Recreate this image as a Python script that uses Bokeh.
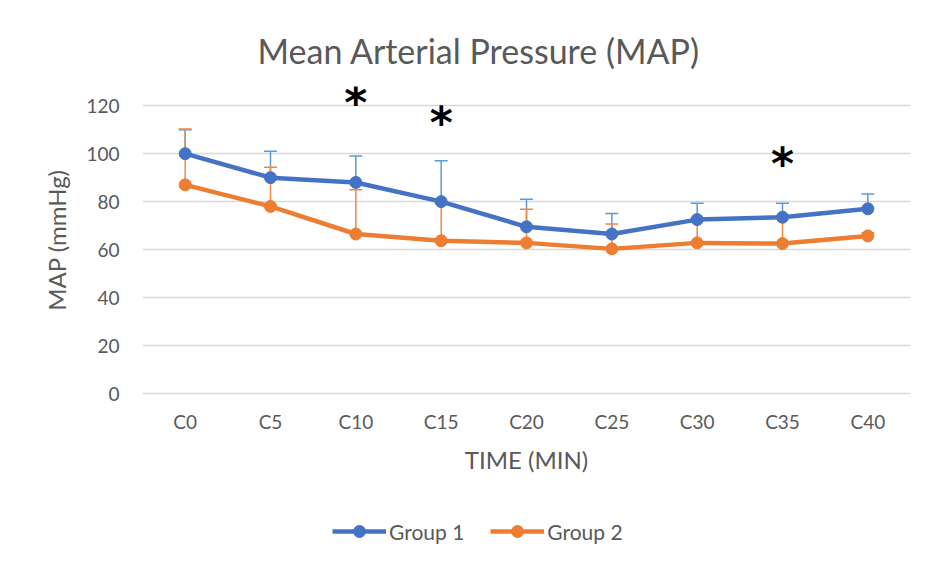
from bokeh.plotting import figure
from bokeh.layouts import column
from bokeh.models import ColumnDataSource, Whisker, TeeHead, Legend, LegendItem, FixedTicker
from bokeh.core.properties import value
from bokeh.embed import file_html
from bokeh.resources import INLINE

categories = ["C0", "C5", "C10", "C15", "C20", "C25", "C30", "C35", "C40"]
group1 = [100, 90, 88, 80, 69.5, 66.5, 72.5, 73.5, 77]
group2 = [87, 78, 66.5, 63.7, 62.8, 60.3, 62.8, 62.5, 65.7]
group1_upper = [110, 101, 99, 97, 81, 75, 79.3, 79.3, 83.2]
group2_upper = [110.3, 94.3, 85, 80, 76.8, 70.7, 72, 73, 67]
star_cats = ["C10", "C15", "C35"]
star_y = [121.3, 113, 95.8]
y_ticks = [0, 20, 40, 60, 80, 100, 120]

FONT = "Lato"
GRAY = "#595959"
BLUE = "#4472C4"
ORANGE = "#ED7D31"

p = figure(width=933, height=500, x_range=categories, y_range=(0, 128),
           output_backend="svg", toolbar_location=None,
           min_border_left=142, min_border_right=23, min_border_top=86, min_border_bottom=107)

p.title.text = "Mean Arterial Pressure (MAP)"
p.title.align = "left"
p.title.offset = 115
p.title.text_font = FONT
p.title.text_font_size = "34px"
p.title.text_font_style = "normal"
p.title.text_color = GRAY
p.title.standoff = 31

p.outline_line_color = None
p.xgrid.grid_line_color = None
p.ygrid.grid_line_color = "#D9D9D9"
p.ygrid.grid_line_width = 1.5
p.yaxis.ticker = FixedTicker(ticks=y_ticks)
p.yaxis.axis_line_color = None
p.yaxis.major_tick_line_color = None
p.yaxis.major_tick_out = 0
p.yaxis.minor_tick_line_color = None
p.yaxis.minor_tick_out = 0
p.yaxis.major_label_standoff = 23
p.yaxis.axis_label = "MAP (mmHg)"
p.yaxis.axis_label_standoff = 12
p.xaxis.axis_line_color = "#D9D9D9"
p.xaxis.axis_line_width = 1.5
p.xaxis.major_tick_line_color = None
p.xaxis.major_tick_out = 0
p.xaxis.major_label_standoff = 16
p.xaxis.axis_label = "TIME (MIN)"
p.xaxis.axis_label_standoff = 9
for ax in (p.xaxis, p.yaxis):
    ax.major_label_text_font = FONT
    ax.major_label_text_font_size = "19px"
    ax.major_label_text_color = GRAY
    ax.axis_label_text_font = FONT
    ax.axis_label_text_font_size = "24px"
    ax.axis_label_text_font_style = "normal"
    ax.axis_label_text_color = GRAY

src = ColumnDataSource(dict(x=categories, g1=group1, g2=group2, u1=group1_upper, u2=group2_upper))

w1 = Whisker(base="x", upper="u1", lower="g1", source=src, line_color="#5B9BD5", line_width=1.5,
             upper_head=TeeHead(size=13, line_color="#5B9BD5", line_width=1.5), lower_head=None)
w2 = Whisker(base="x", upper="u2", lower="g2", source=src, line_color="#F0884A", line_width=1.5,
             upper_head=TeeHead(size=13, line_color="#F0884A", line_width=1.5), lower_head=None)
p.add_layout(w1)
p.add_layout(w2)

p.line("x", "g2", source=src, line_color=ORANGE, line_width=4.5)
p.scatter("x", "g2", source=src, size=12, fill_color=ORANGE, line_color=ORANGE)
p.line("x", "g1", source=src, line_color=BLUE, line_width=4.5)
p.scatter("x", "g1", source=src, size=12, fill_color=BLUE, line_color=BLUE)

p.text(x=star_cats, y=star_y, text=["*"] * 3, text_font=value("DejaVu Sans"), text_font_size="44px",
       text_font_style="bold", text_color="black", text_align="center", text_baseline="middle")

# legend strip below the chart (its renderers lie outside its visible y-range)
q = figure(width=933, height=61, x_range=p.x_range, y_range=(1000, 1001),
           output_backend="svg", toolbar_location=None, x_axis_type=None, y_axis_type=None,
           min_border=0)
q.outline_line_color = None
q.grid.grid_line_color = None
l1 = q.line("x", "g1", source=src, line_color=BLUE, line_width=4.5)
c1 = q.scatter("x", "g1", source=src, size=12, fill_color=BLUE, line_color=BLUE)
l2 = q.line("x", "g2", source=src, line_color=ORANGE, line_width=4.5)
c2 = q.scatter("x", "g2", source=src, size=12, fill_color=ORANGE, line_color=ORANGE)
legend = Legend(items=[LegendItem(label="Group 1", renderers=[l1, c1]),
                       LegendItem(label="Group 2", renderers=[l2, c2])],
                orientation="horizontal", location=(190, 15), padding=5, margin=0,
                label_text_font=FONT, label_text_font_size="21px", label_text_color=GRAY,
                glyph_width=54, glyph_height=30, spacing=26, label_standoff=3,
                border_line_color=None, background_fill_alpha=0)
q.add_layout(legend, "center")

open("out.html", "w").write(file_html(column(p, q, spacing=0), INLINE))
